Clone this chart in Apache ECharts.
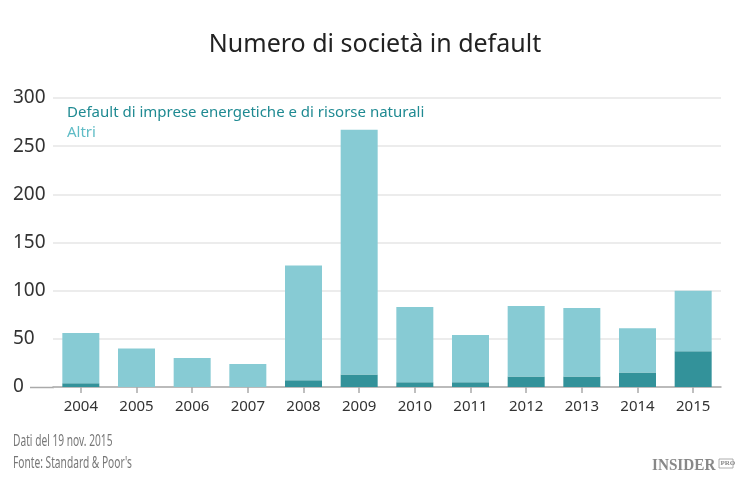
<!DOCTYPE html>
<html>
<head>
<meta charset="utf-8">
<script src="https://cdn.jsdelivr.net/npm/echarts@6/dist/echarts.min.js"></script>
<style>
html,body{margin:0;padding:0;background:#fff;}
#chart{width:750px;height:484px;}
</style>
</head>
<body>
<div id="chart"></div>
<script>
var years = ['2004','2005','2006','2007','2008','2009','2010','2011','2012','2013','2014','2015'];
var energia = [4, 0, 0, 0, 7, 13, 5, 5, 11, 11, 15, 37];
var altri = [52, 40, 30, 24, 119, 254, 78, 49, 73, 71, 46, 63];
var yTicks = [0, 50, 100, 150, 200, 250, 300];
var nameEnergia = 'Default di imprese energetiche e di risorse naturali';
var nameAltri = 'Altri';

var FONT = '"Noto Sans", "Open Sans", sans-serif';
var chart = echarts.init(document.getElementById('chart'));
chart.setOption({
  backgroundColor: '#fff',
  animation: false,
  textStyle: { fontFamily: FONT },
  title: {
    text: 'Numero di società in default',
    left: 'center',
    top: 27,
    textStyle: { fontFamily: FONT, fontSize: 25, fontWeight: 'normal', color: '#222' }
  },
  legend: {
    orient: 'vertical',
    left: 57,
    top: 100,
    icon: 'none',
    itemWidth: 0,
    itemHeight: 10,
    itemGap: 5,
    selectedMode: false,
    textStyle: { fontFamily: FONT, fontSize: 15 },
    data: [
      { name: nameEnergia, textStyle: { color: '#1f8a92' } },
      { name: nameAltri, textStyle: { color: '#5fbcc6' } }
    ]
  },
  grid: { left: 53, right: 29, top: 98, bottom: 97, containLabel: false },
  xAxis: {
    type: 'category',
    data: years,
    axisLine: { show: true, lineStyle: { color: '#aaa', width: 1.5 } },
    axisTick: { show: true, alignWithLabel: true, length: 6, lineStyle: { color: '#aaa', width: 1.5 } },
    axisLabel: { color: '#333', fontSize: 15, margin: 12, fontFamily: FONT },
    splitLine: { show: false }
  },
  yAxis: {
    type: 'value',
    min: yTicks[0],
    max: yTicks[yTicks.length - 1],
    interval: 50,
    axisLine: { show: false },
    axisTick: { show: false },
    axisLabel: { color: '#333', fontSize: 19, align: 'left', margin: 40, fontFamily: FONT },
    splitLine: { show: true, lineStyle: { color: '#e6e6e6', width: 1.5 } }
  },
  graphic: [
    { type: 'line', shape: { x1: 30, y1: 387.5, x2: 54, y2: 387.5 }, style: { stroke: '#aaa', lineWidth: 1.5 } },
    { type: 'text', x: 13, y: 433, scaleX: 0.6, style: { text: 'Dati del 19 nov. 2015', fill: '#777', font: '17px "Noto Sans", sans-serif' } },
    { type: 'text', x: 13, y: 455, scaleX: 0.6, style: { text: "Fonte: Standard & Poor's", fill: '#777', font: '17px "Noto Sans", sans-serif' } },
    { type: 'text', x: 652, y: 458, scaleX: 0.95, style: { text: 'INSIDER', fill: '#888', font: 'bold 16px "Liberation Serif", "DejaVu Serif", serif' } },
    { type: 'rect', shape: { x: 719, y: 459, width: 14, height: 9 }, style: { fill: 'none', stroke: '#999', lineWidth: 0.8 } },
    { type: 'text', x: 720.5, y: 460, style: { text: 'PRO', fill: '#888', font: 'bold 7px "Liberation Serif", serif' } }
  ],
  series: [
    {
      name: nameEnergia,
      type: 'bar',
      stack: 'tot',
      barWidth: 37,
      data: energia,
      itemStyle: { color: '#33929a' }
    },
    {
      name: nameAltri,
      type: 'bar',
      stack: 'tot',
      barWidth: 37,
      data: altri,
      itemStyle: { color: '#87cbd4' }
    }
  ]
});
</script>
</body>
</html>
